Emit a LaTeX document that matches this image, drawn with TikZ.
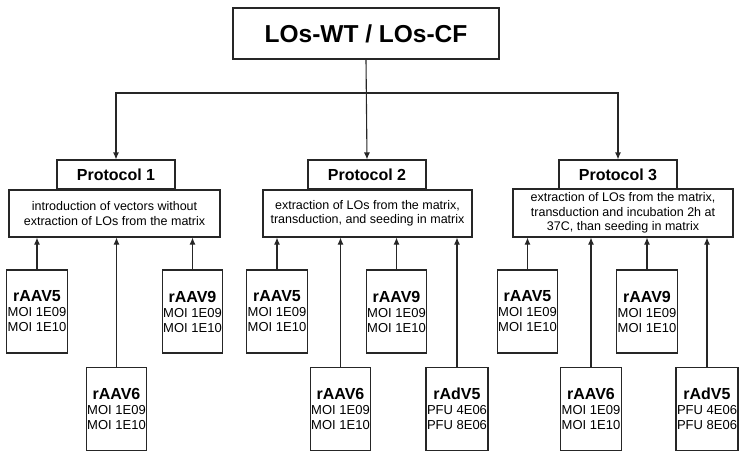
\documentclass[tikz,border=0pt]{standalone}
\usepackage{fontspec}
\setmainfont{Liberation Sans}
\usepackage{tikz}
\usetikzlibrary{arrows.meta}

\tikzset{
  titlebox/.style={draw, minimum width=266pt, minimum height=51pt, font=\fontsize{24.5}{28}\selectfont\bfseries},
  protbox/.style={draw, minimum width=118pt, minimum height=29pt, font=\fontsize{16}{19}\selectfont\bfseries},
  descbox/.style={draw, minimum height=47pt, align=center, inner sep=2pt, font=\fontsize{12.5}{14.5}\selectfont},
  vecbox/.style={draw, minimum width=60pt, minimum height=83pt, align=center, inner sep=1pt, font=\fontsize{13}{15}\selectfont}
}

\begin{document}
\begin{tikzpicture}[x=1pt, y=-1pt, >={Latex[length=7pt, width=6pt]}, line width=1.1pt, draw=black!85]

\useasboundingbox (0,0) rectangle (744,456);

% Le nœud du haut
\node[titlebox] (T) at (366,33.5) {LOs-WT / LOs-CF};

% Les protocoles
\foreach \p/\x in {1/116,2/367,3/618}
\node[protbox] (P\p) at (\x,174.5) {Protocol \p};

% Les descriptions
\node[descbox, minimum width=211pt] (D1) at (114.5,213.5) {introduction of vectors without\\extraction of LOs from the matrix};
\node[descbox, minimum width=209pt] (D2) at (367.5,213.5) {extraction of LOs from the matrix,\\transduction, and seeding in matrix};
\node[descbox, minimum width=220pt, minimum height=48pt] (D3) at (623,213) {extraction of LOs from the matrix,\\transduction and incubation 2h at\\37C, than seeding in matrix};

% Les vecteurs
\foreach \n/\p/\x/\y/\v/\u/\a/\b in {
  1/1/37/311.5/rAAV5/MOI/1E09/1E10, 2/1/116.5/409/rAAV6/MOI/1E09/1E10, 3/1/192.5/311.5/rAAV9/MOI/1E09/1E10,
  4/2/277/311.5/rAAV5/MOI/1E09/1E10, 5/2/340.5/409/rAAV6/MOI/1E09/1E10, 6/2/396.5/311.5/rAAV9/MOI/1E09/1E10,
  7/2/457/409/rAdV5/PFU/4E06/8E06,
  8/3/527.5/311.5/rAAV5/MOI/1E09/1E10, 9/3/591/409/rAAV6/MOI/1E09/1E10, 10/3/647/311.5/rAAV9/MOI/1E09/1E10,
  11/3/707/409/rAdV5/PFU/4E06/8E06}
{
\node[vecbox] (V\n) at (\x,\y) {{\fontsize{16}{15}\selectfont\bfseries \v}\\\u~\a\\\u~\b};
\draw[->] (V\n.north) -- (V\n.north |- D\p.south);
}

% Les connexions du haut
\coordinate (S) at (366,93);
\draw[->] (T.south) -- (P2.north);
\draw[->] (S) -| (P1.north);
\draw[->] (S) -| (P3.north);

\end{tikzpicture}
\end{document}
